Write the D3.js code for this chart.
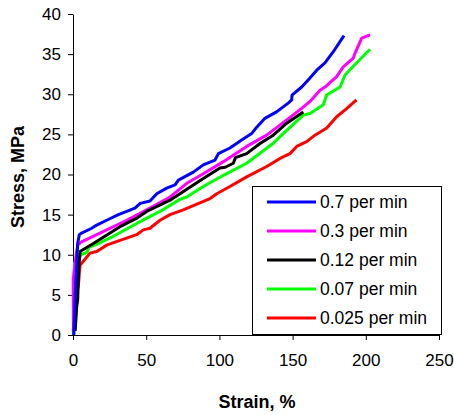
<!DOCTYPE html>
<html>
<head>
<meta charset="utf-8">
<script src="https://cdn.jsdelivr.net/npm/d3@7"></script>
<style>
  body { margin: 0; background: #ffffff; }
  svg { display: block; font-family: "Liberation Sans", Arial, sans-serif; }
</style>
</head>
<body>
<svg id="chart" width="454" height="415"></svg>
<script>
// series names and colours
const seriesNames = ['0.7 per min', '0.3 per min', '0.12 per min', '0.07 per min', '0.025 per min'];
const seriesColors = ['#0000ff', '#ff00ff', '#000000', '#00ff00', '#ff0000'];

// [strain %, stress MPa]
const rate07 = [[0.5, 0], [1.5, 5], [2.5, 9], [3.2, 11.4], [4.3, 12.5], [5.9, 12.7], [12.8, 13.3], [16.2, 13.7],
  [23, 14.3], [31, 15], [36.7, 15.4], [42.3, 15.8], [45.9, 16.4], [52.6, 16.7], [57.2, 17.6], [64, 18.3],
  [69.7, 18.7], [72, 19.3], [82.2, 20.3], [89, 21.2], [97, 21.8], [99.3, 22.6], [107.2, 23.3], [115.2, 24.3],
  [122, 25.1], [125.5, 25.9], [131.1, 27], [139, 27.8], [147, 28.9], [149.4, 29.3], [149.6, 29.9], [156.2, 30.9],
  [160.8, 31.8], [166.5, 33], [172.1, 33.9], [177.8, 35.3], [185.1, 37.3]];
const rate03 = [[0.3, 0.5], [0.2, 6.9], [1.6, 9.3], [3.2, 11.2], [5.9, 11.6], [18.4, 12.7], [36.7, 14.3],
  [50.3, 15.6], [66.3, 17.2], [77.7, 18.9], [89, 20.1], [102.7, 21.6], [118.6, 23.5], [132.3, 24.9], [146, 26.8],
  [157.3, 28.4], [161.9, 29.1], [168.7, 30.5], [172.1, 30.9], [180.1, 32.2], [184.6, 33.4], [191.5, 34.5],
  [192.6, 35.1], [197.2, 37], [202.9, 37.4]];
const rate012 = [[1.5, 0.5], [2.5, 3.5], [3.2, 4.4], [3.8, 8], [4.8, 10.4], [13.9, 11.4], [25.3, 12.7], [32.1, 13.5],
  [43, 14.5], [50.3, 15.4], [66.3, 16.8], [78, 18.2], [89, 19.5], [100.4, 20.8], [104, 20.9], [109.5, 21.4],
  [111, 22.1], [118.6, 22.6], [128, 23.9], [136.8, 24.9], [146, 26.4], [157.3, 27.8]];
const rate007 = [[0.5, 0], [0.7, 5], [0.9, 8.9], [2.5, 9.1], [5.5, 10], [9.4, 10.3], [11.2, 11], [15, 11.2],
  [27.5, 12.3], [43.5, 13.9], [59.4, 15.4], [73, 16.9], [77.7, 17.2], [89, 18.5], [102.7, 19.9], [118.6, 21.4],
  [136.8, 23.9], [146, 25.5], [157.3, 27.4], [161.9, 27.6], [171, 28.7], [173.3, 29.9], [182.4, 30.9],
  [185.8, 32.4], [193.6, 33.9], [202.9, 35.6]];
const rate0025 = [[0.2, 0.4], [1.4, 4.8], [3.6, 6], [4.8, 8.7], [11.6, 10.2], [16.2, 10.4], [23, 11.2],
  [32.1, 11.8], [43.5, 12.5], [48, 13.1], [52.6, 13.3], [59.4, 14.3], [66.3, 15], [75.3, 15.6], [93.6, 17],
  [98.2, 17.6], [107.2, 18.5], [118.6, 19.7], [132.3, 21], [141.4, 22], [148.2, 22.6], [152.8, 23.5],
  [159.6, 24.1], [165.3, 24.9], [173.3, 25.8], [180.1, 27.2], [186.9, 28.2], [193.6, 29.3]];
const allSeries = [rate07, rate03, rate012, rate007, rate0025];

const xTicks = [0, 50, 100, 150, 200, 250];
const yTicks = [0, 5, 10, 15, 20, 25, 30, 35, 40];

const svg = d3.select('#chart');
const x = d3.scaleLinear().domain([0, 250]).range([73, 439]);
const y = d3.scaleLinear().domain([0, 40]).range([335, 14]);

// axes
const yAxis = svg.append('g')
  .attr('transform', 'translate(73,0)')
  .call(d3.axisLeft(y).tickValues(yTicks).tickSize(5).tickPadding(7).tickSizeOuter(0));
const xAxis = svg.append('g')
  .attr('transform', 'translate(0,335)')
  .call(d3.axisBottom(x).tickValues(xTicks).tickSize(5).tickPadding(14).tickSizeOuter(0));
svg.selectAll('.domain, .tick line').attr('stroke', '#000').attr('stroke-width', 1);
svg.selectAll('.tick text').attr('font-size', 17).attr('fill', '#000')
  .attr('font-family', '"Liberation Sans", Arial, sans-serif');

// axis titles
svg.append('text')
  .attr('x', 257).attr('y', 408)
  .attr('text-anchor', 'middle')
  .attr('font-size', 18).attr('font-weight', 'bold')
  .text('Strain, %');
svg.append('text')
  .attr('transform', 'translate(24,177) rotate(-90)')
  .attr('text-anchor', 'middle')
  .attr('font-size', 18).attr('font-weight', 'bold')
  .text('Stress, MPa');

// curves, drawn red first so blue sits on top
const line = d3.line().x(d => x(d[0])).y(d => y(d[1]));
const drawOrder = [4, 3, 1, 2, 0];
drawOrder.forEach(i => {
  svg.append('path')
    .datum(allSeries[i])
    .attr('fill', 'none')
    .attr('stroke', seriesColors[i])
    .attr('stroke-width', 3)
    .attr('stroke-linejoin', 'round')
    .attr('d', line);
});

// legend
const legend = svg.append('g');
legend.append('rect')
  .attr('x', 252.5).attr('y', 186.5)
  .attr('width', 189).attr('height', 148)
  .attr('fill', '#fff').attr('stroke', '#000').attr('stroke-width', 1);
seriesNames.forEach((name, i) => {
  const ly = 202 + i * 29;
  legend.append('line')
    .attr('x1', 267).attr('x2', 316)
    .attr('y1', ly).attr('y2', ly)
    .attr('stroke', seriesColors[i]).attr('stroke-width', 3);
  legend.append('text')
    .attr('x', 320).attr('y', ly + 6)
    .attr('font-size', 17.5)
    .text(name);
});
</script>
</body>
</html>
